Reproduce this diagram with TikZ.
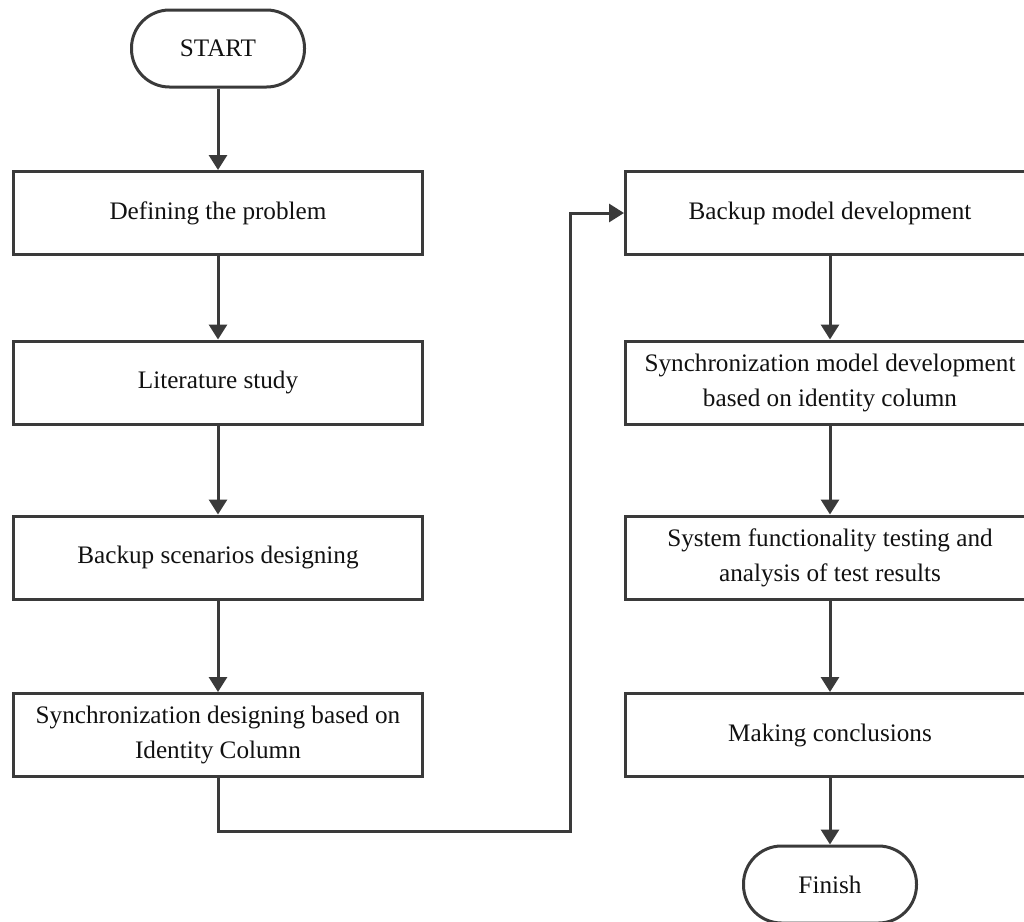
\documentclass[tikz,border=0pt]{standalone}
\usepackage{fontspec}
\setmainfont{Liberation Serif}
\usetikzlibrary{arrows.meta}
\definecolor{ln}{HTML}{3A3A3A}
\definecolor{tx}{HTML}{111111}
\begin{document}
\begin{tikzpicture}[x=0.5pt,y=-0.5pt,
  box/.style={draw=ln, line width=1.5pt, minimum width=204.5pt, minimum height=41.5pt, align=center, inner sep=0pt, text=tx, font=\fontsize{12.6pt}{17.5pt}\selectfont},
  term/.style={draw=ln, line width=1.5pt, minimum width=86.5pt, minimum height=38.5pt, rounded corners=19pt, inner sep=0pt, text=tx, font=\fontsize{12.6pt}{17.5pt}\selectfont},
  arr/.style={draw=ln, line width=1.5pt, -{Triangle[length=7.5pt,width=9pt]}}]
\useasboundingbox (0,0) rectangle (1024,922);
\node[term] (start) at (218,48.5) {START};
\node[box] (b1) at (218,213) {Defining the problem};
\node[box] (b2) at (218,382.5) {Literature study};
\node[box] (b3) at (218,557.5) {Backup scenarios designing};
\node[box] (b4) at (218,735) {Synchronization designing based on\\Identity Column};
\node[box] (r1) at (830,213) {Backup model development};
\node[box] (r2) at (830,382.5) {Synchronization model development\\based on identity column};
\node[box] (r3) at (830,557.5) {System functionality testing and\\analysis of test results};
\node[box] (r4) at (830,735) {Making conclusions};
\node[term] (fin) at (830,884.5) {Finish};
\coordinate (c1) at (570,831);
\draw[arr] (start) -- (b1);
\draw[arr] (b1) -- (b2);
\draw[arr] (b2) -- (b3);
\draw[arr] (b3) -- (b4);
\draw[arr] (b4.south) |- (c1) |- (r1.west);
\draw[arr] (r1) -- (r2);
\draw[arr] (r2) -- (r3);
\draw[arr] (r3) -- (r4);
\draw[arr] (r4) -- (fin);
\end{tikzpicture}
\end{document}
